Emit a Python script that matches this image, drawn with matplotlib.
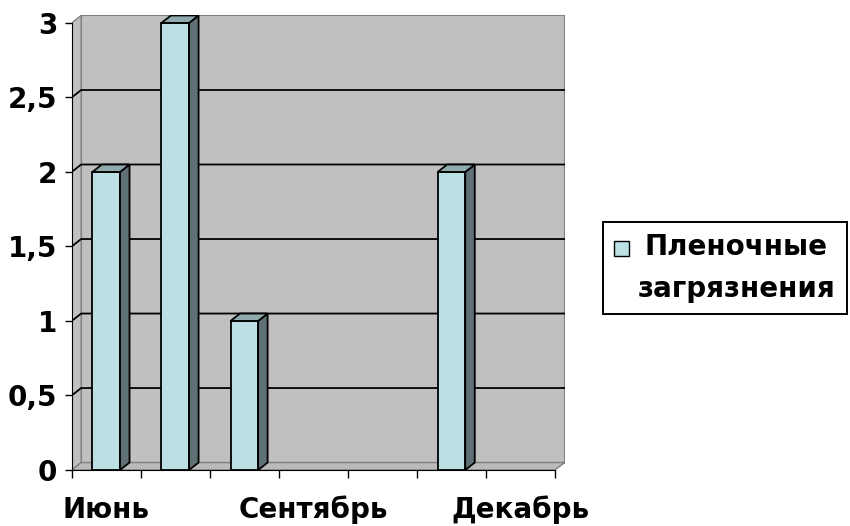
import matplotlib
matplotlib.use('Agg')
import matplotlib.pyplot as plt
from matplotlib.patches import Polygon, Rectangle, Patch
from matplotlib.legend_handler import HandlerPatch

# данные по месяцам
months = ['Июнь', 'Июль', 'Август', 'Сентябрь', 'Октябрь', 'Ноябрь', 'Декабрь']
values = [2, 3, 1, 0, 0, 2, 0]
shown_months = months[::3]
y_ticks = [0, 0.5, 1, 1.5, 2, 2.5, 3]
y_labels = ['0', '0,5', '1', '1,5', '2', '2,5', '3']
series_name = 'Пленочные\nзагрязнения'

plt.rcParams['font.family'] = ['DejaVu Sans']
plt.rcParams['font.weight'] = 'bold'

front_c = '#bbe0e3'
side_c = '#5f7174'
top_c = '#8eaaac'
wall_c = '#c0c0c0'
edge_c = '#808080'

dx, dy = 0.1375, 0.05  # сдвиг "глубины" псевдо-3D
w = 0.4
n = len(months)
x = list(range(n))

fig = plt.figure(figsize=(8.5, 5.26), dpi=100)
ax = fig.add_axes([0.08435, 0.10646, 0.5798, 0.8641])
ax.set_xlim(-0.5, n - 0.5 + dx)
ax.set_ylim(0, 3 + dy)
ax.patch.set_visible(False)
ax.spines['top'].set_visible(False)
ax.spines['right'].set_visible(False)
ax.spines['left'].set_bounds(0, 3)
ax.spines['bottom'].set_bounds(-0.5, n - 0.5)

# стенки и пол
ax.add_patch(Rectangle((-0.5 + dx, dy), n, 3, fc=wall_c, ec=edge_c, lw=1.5, zorder=0.5))
ax.add_patch(Polygon([(-0.5, 0), (-0.5, 3), (-0.5 + dx, 3 + dy), (-0.5 + dx, dy)],
                     fc=wall_c, ec=edge_c, lw=1, zorder=0.6))
ax.add_patch(Polygon([(-0.5, 0), (n - 0.5, 0), (n - 0.5 + dx, dy), (-0.5 + dx, dy)],
                     fc='#bababa', ec=edge_c, lw=1, zorder=0.7))

# сетка на задней и левой стенке
for yv in y_ticks[1:-1]:
    ax.plot([-0.5, -0.5 + dx, n - 0.5 + dx], [yv, yv + dy, yv + dy],
            color='black', lw=1.3, zorder=1)

# столбики: передняя грань, бок, верх (нулевые без обводки)
edges = ['black' if v > 0 else 'none' for v in values]
ax.bar(x, values, width=w, color=front_c, edgecolor=edges, lw=1.3, zorder=3)
for xi, v in zip(x, values):
    if v <= 0:
        continue
    r = xi + w / 2
    l = xi - w / 2
    ax.add_patch(Polygon([(r, 0), (r + dx, dy), (r + dx, v + dy), (r, v)],
                         fc=side_c, ec='black', lw=1.3, zorder=3))
    ax.add_patch(Polygon([(l, v), (l + dx, v + dy), (r + dx, v + dy), (r, v)],
                         fc=top_c, ec='black', lw=1.3, zorder=3))

ax.set_yticks(y_ticks, y_labels)
ax.tick_params(axis='y', length=4.8, width=1, pad=5.5, labelsize=20)
ax.set_xticks([months.index(m) for m in shown_months], shown_months)
ax.set_xticks([i - 0.5 for i in range(n + 1)], minor=True)
ax.tick_params(axis='x', which='major', length=0, pad=18.5, labelsize=20)
ax.tick_params(axis='x', which='minor', length=5.8, width=1)


# квадратик легенды ставим на уровень первой строки
def first_line_square(legend, orig_handle, xdescent, ydescent, width, height, fontsize):
    return Rectangle((-xdescent, 16.6), width, width)


handle = Patch(fc=front_c, ec='black', lw=1)
leg = fig.legend([handle], [series_name], loc='upper left',
                 bbox_to_anchor=(602.7 / 850, 1 - 221.7 / 526), fontsize=20,
                 frameon=True, fancybox=False, edgecolor='black', framealpha=1,
                 handlelength=0.54, handleheight=0.6, handletextpad=0.29,
                 borderpad=0.42, borderaxespad=0,
                 handler_map={handle: HandlerPatch(patch_func=first_line_square)})
leg.get_frame().set_linewidth(1.4)
for t in leg.get_texts():
    t.set_multialignment('center')
    t.set_linespacing(1.6)

fig.savefig('out.png', dpi=100)
